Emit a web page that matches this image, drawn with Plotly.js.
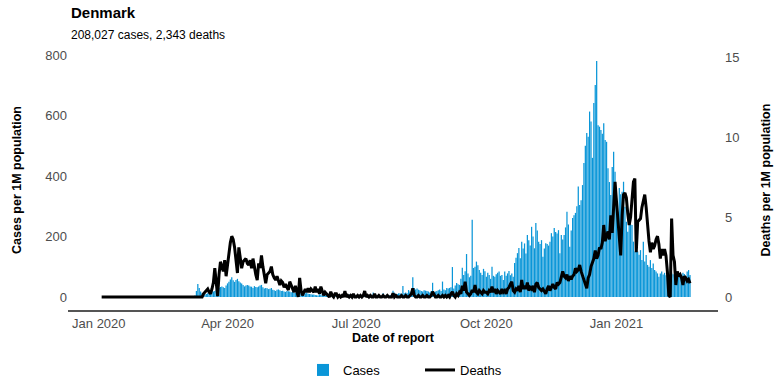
<!DOCTYPE html>
<html>
<head>
<meta charset="utf-8">
<script src="https://cdn.plot.ly/plotly-3.0.1.min.js"></script>
<style>html,body{margin:0;padding:0;background:#fff;}#chart{width:784px;height:392px;}</style>
</head>
<body>
<div id="chart"></div>
<script>
// Daily series start on this date
const startDate = '2020-01-03';

// Cases per 1M population (daily)
const casesJan20 = [0,0,0,0,0,0,0,0,0,0,0,0,0,0,0,0,0,0,0,0,0,0,0,0,0,0,0,0,0];
const casesFeb20 = [0,0,0,0,0,0,0,0,0,0,0,0,0,0,0,0,0,0,0,0,0,0,0,0,0,0,0.2,0.3,0.5];
const casesMar20 = [0.2,0.2,0.3,0.3,0.5,0.7,1,2,5,20,43,30,18,12,10,8,10,12,16,20,22,18,20,24,26,30,33,35,32,30,38];
const casesApr20 = [45,50,58,65,55,50,56,60,52,48,45,40,35,38,40,38,35,34,30,36,33,32,35,38,40,32,28,30,29,26];
const casesMay20 = [27,30,24,22,20,24,25,22,20,21,18,17,20,19,18,16,17,15,13,15,14,13,12,11,10,12,14,11,10,9,8];
const casesJun20 = [8,7,6,5,9,8,6,5,7,6,8,7,5,4,6,7,5,6,8,7,5,4,6,5,7,8,6,4,5,6];
const casesJul20 = [4,3,5,3,2,4,5,3,3,4,5,4,15,3,4,6,5,4,3,12,5,6,4,5,7,8,21,14,9,10,12];
const casesAug20 = [12,10,36,12,15,12,23,18,14,65,30,25,28,24,22,20,18,22,21,20,18,15,20,47,15,18,20,22,25,20,51];
const casesSep20 = [25,22,30,28,30,32,99,28,38,46,42,40,60,97,73,85,142,78,65,70,255,96,100,117,105,89,80,73,93,85];
const casesOct20 = [67,80,73,60,100,70,67,75,80,84,70,73,56,84,70,78,86,72,78,67,112,130,145,162,128,183,160,177,144,205,188];
const casesNov20 = [170,232,200,161,245,220,183,175,188,133,160,178,175,170,183,211,200,228,215,210,221,145,205,190,205,230,282,240,166,220];
const casesDec20 = [261,270,278,300,365,304,320,370,443,500,542,530,613,580,460,641,701,780,568,563,552,540,574,519,513,426,380,337,430,480,414];
const casesJan21 = [327,282,360,340,348,381,298,249,216,261,240,238,183,150,161,150,140,155,122,183,117,139,106,100,122,96,111,89,84,78,67];
const casesFeb21 = [78,84,74,80,72,70,62,76,80,75,73,70,66,78,74,70,80,76,68,84,89,73];

// Deaths per 1M population (daily)
const deathsJan20 = [0,0,0,0,0,0,0,0,0,0,0,0,0,0,0,0,0,0,0,0,0,0,0,0,0,0,0,0,0];
const deathsFeb20 = [0,0,0,0,0,0,0,0,0,0,0,0,0,0,0,0,0,0,0,0,0,0,0,0,0,0,0,0,0];
const deathsMar20 = [0,0,0,0,0,0,0,0,0,0,0,0,0,0,0.2,0.3,0.4,0.5,0.3,0.2,0.5,0.9,1.8,1.06,0.05,1.4,2.2,1.9,1.6,2.3,1.3];
const deathsApr20 = [2.0,2.9,3.4,3.8,3.6,3.1,2.3,1.5,3.1,2.5,1.8,2.2,2.3,2.4,2.1,2.0,2.3,1.8,2.4,1.8,1.4,1.06,2.1,1.8,2.6,1.9,1.2,0.86,1.4,1.5];
const deathsMay20 = [1.6,1.9,1.4,1.2,1.06,1.3,1.06,0.75,1.0,0.9,0.6,0.8,0.6,0.44,0.96,0.7,0.5,0.3,0.7,0.3,0.0,1.2,0.4,0.1,0.3,0.5,0.3,0.54,0.3,0.5,0.4];
const deathsJun20 = [0.3,0.65,0.3,0.5,0.2,0.65,0.3,0.1,0.3,0.2,0.1,0.0,0.33,0.1,0.0,0.2,0.2,0.0,0.1,0.0,0.1,0.0,0.37,0.0,0.1,0.0,0.1,0.0,0.2,0.0];
const deathsJul20 = [0,0.1,0,0.1,0,0.1,0.37,0,0.1,0,0.1,0,0,0.2,0,0,0.1,0,0,0.1,0,0,0.1,0,0,0,0.23,0,0.1,0,0];
const deathsAug20 = [0,0.1,0,0,0.1,0,0,0.1,0.2,0.54,0.1,0,0,0.1,0,0,0.1,0,0,0.1,0,0,0.1,0.33,0.1,0,0,0.1,0,0,0.1];
const deathsSep20 = [0,0.1,0,0.1,0,0.2,0.33,0.1,0,0.2,0.1,0.3,0.2,0.7,0.4,0.96,0.3,0.2,0.1,0.2,0.44,0.3,0.75,0.3,0.2,0.4,0.3,0.2,0.4,0.3];
const deathsOct20 = [0.3,0.2,0.4,0.3,0.65,0.3,0.5,0.2,0.4,0.3,0.2,0.5,0.3,0.4,0.2,0.5,0.6,0.8,0.96,0.4,0.3,0.5,0.4,0.7,0.3,1.06,0.5,0.7,0.5,0.9,0.4];
const deathsNov20 = [0.6,0.5,0.7,0.3,0.8,0.9,0.6,0.5,0.4,0.5,0.3,0.2,0.5,0.7,0.4,0.6,0.8,0.6,0.5,0.9,0.8,0.9,1.2,1.6,1.3,1.2,1.4,1.0,1.3,1.1];
const deathsDec20 = [1.3,1.4,1.8,1.6,1.7,2.0,1.6,1.3,1.0,0.8,0.54,1.2,1.4,1.9,2.2,2.4,2.9,2.4,2.6,3.1,3.0,3.4,4.5,3.5,3.8,4.1,3.6,5.1,4.0,5.5,7.2];
const deathsJan21 = [6.0,5.0,4.0,2.6,5.1,6.4,6.5,6.2,5.2,4.5,5.0,6.0,7.2,7.4,2.8,4.7,4.8,4.9,5.6,6.0,6.4,5.6,4.3,3.5,2.8,3.4,3.0,3.2,3.6,3.8,3.3];
const deathsFeb21 = [2.4,3.0,2.6,3.0,2.6,1.6,0.1,0.0,4.9,2.6,2.2,0.75,1.6,1.3,1.4,1.2,0.75,1.3,1.2,1.0,1.1,0.86];

// Axis ticks and text
const xTickVals = ['2020-01-01','2020-04-01','2020-07-01','2020-10-01','2021-01-01'];
const xTickText = ['Jan 2020','Apr 2020','Jul 2020','Oct 2020','Jan 2021'];
const yTickVals = [0,200,400,600,800];
const y2TickVals = [0,5,10,15];
const chartTitle = 'Denmark';
const chartSubtitle = '208,027 cases, 2,343 deaths';

const cases = [].concat(casesJan20,casesFeb20,casesMar20,casesApr20,casesMay20,casesJun20,casesJul20,casesAug20,casesSep20,casesOct20,casesNov20,casesDec20,casesJan21,casesFeb21);
const deaths = [].concat(deathsJan20,deathsFeb20,deathsMar20,deathsApr20,deathsMay20,deathsJun20,deathsJul20,deathsAug20,deathsSep20,deathsOct20,deathsNov20,deathsDec20,deathsJan21,deathsFeb21);

const s = startDate.split('-').map(Number);
const dates = cases.map((_, i) => new Date(Date.UTC(s[0], s[1]-1, s[2]+i)).toISOString().slice(0,10));

const FONT = 'Liberation Sans, Arial, Helvetica, sans-serif';
const TICKC = '#4d4d4d';

const traces = [
  {type:'bar', x:dates, y:cases, name:'Cases', marker:{color:'#0a96d8', line:{width:0}}, yaxis:'y'},
  {type:'scatter', mode:'lines', x:dates, y:deaths, name:'Deaths', line:{color:'#000000', width:3}, yaxis:'y2'}
];

const layout = {
  width:784, height:392,
  margin:{l:68, r:66, t:50, b:82, autoexpand:false},
  paper_bgcolor:'#ffffff', plot_bgcolor:'#ffffff',
  font:{family:FONT, color:'#000'},
  bargap:0.12,
  title:{text:'<b>'+chartTitle+'</b>', font:{family:FONT, size:15, color:'#000'}, xref:'container', x:71/784, xanchor:'left', yref:'container', y:1-13/392, yanchor:'middle'},
  annotations:[{text:chartSubtitle, xref:'paper', x:0, xanchor:'left', xshift:1, yref:'paper', y:(310-35)/260, yanchor:'middle', showarrow:false, font:{family:FONT, size:12, color:'#000'}}],
  xaxis:{type:'date', range:['2019-12-10 05:00','2021-03-13 19:00'], tickvals:xTickVals, ticktext:xTickText,
    showgrid:false, zeroline:false, showline:true, linecolor:'#555555', linewidth:2, ticks:'',
    tickfont:{family:FONT, size:13, color:TICKC},
    title:{text:'<b>Date of report</b>', font:{family:FONT, size:12.5, color:'#000'}, standoff:3}},
  yaxis:{range:[-42.98,816.5], tickvals:yTickVals, showgrid:false, zeroline:false, showline:false, ticks:'',
    tickfont:{family:FONT, size:13, color:TICKC},
    title:{text:'<b>Cases per 1M population</b>', font:{family:FONT, size:12.5, color:'#000'}, standoff:20}},
  yaxis2:{overlaying:'y', side:'right', range:[-0.8125,15.4375], tickvals:y2TickVals, showgrid:false, zeroline:false, showline:false, ticks:'',
    ticklabelstandoff:6,
    tickfont:{family:FONT, size:13, color:TICKC},
    title:{text:'<b>Deaths per 1M population</b>', font:{family:FONT, size:12.5, color:'#000'}, standoff:22}},
  showlegend:true,
  legend:{orientation:'h', x:(303-68)/650, xanchor:'left', y:(310-370)/260, yanchor:'middle', entrywidth:72, entrywidthmode:'pixels',
    font:{family:FONT, size:13, color:'#000'}, traceorder:'normal'}
};

Plotly.newPlot('chart', traces, layout, {staticPlot:true, displayModeBar:false});
</script>
</body>
</html>
